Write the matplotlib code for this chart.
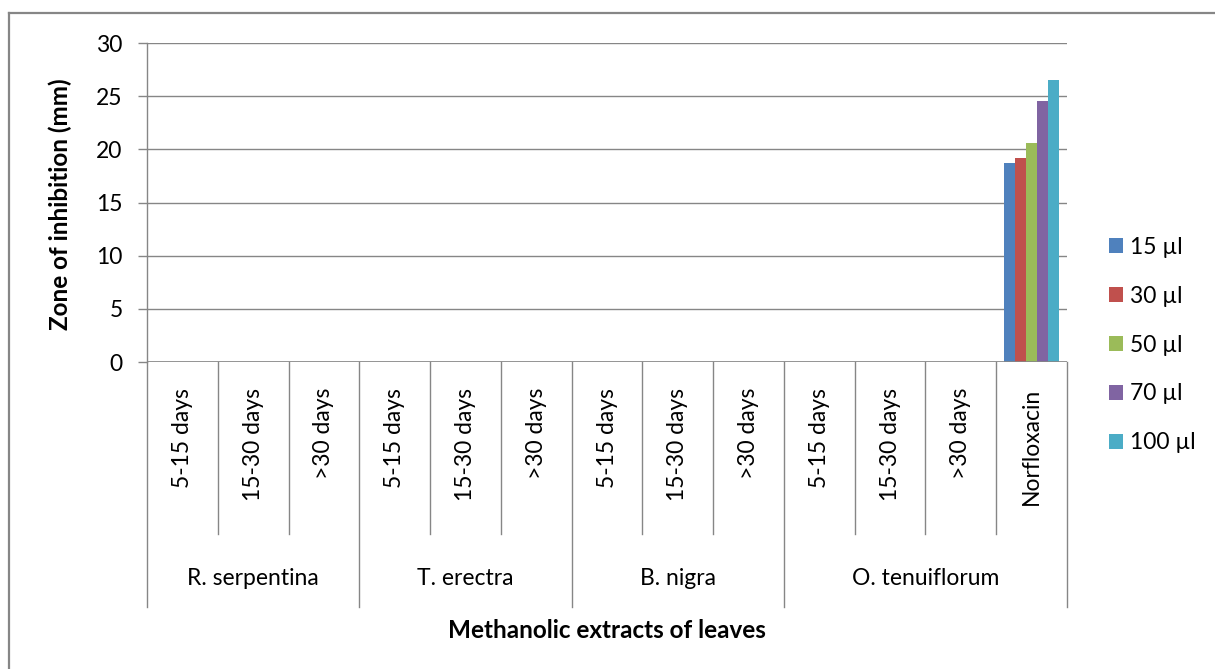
import matplotlib
matplotlib.use("Agg")
import matplotlib.pyplot as plt
import matplotlib.transforms as mtransforms
from matplotlib.lines import Line2D
import numpy as np

plt.rcParams['font.family'] = ['Lato', 'DejaVu Sans']

groups = ["R. serpentina", "T. erectra", "B. nigra", "O. tenuiflorum"]
group_sizes = [3, 3, 3, 4]
categories = ["5-15 days", "15-30 days", ">30 days",
              "5-15 days", "15-30 days", ">30 days",
              "5-15 days", "15-30 days", ">30 days",
              "5-15 days", "15-30 days", ">30 days",
              "Norfloxacin"]
series_names = ["15 µl", "30 µl", "50 µl", "70 µl", "100 µl"]
s15 = [0, 0, 0, 0, 0, 0, 0, 0, 0, 0, 0, 0, 18.7]
s30 = [0, 0, 0, 0, 0, 0, 0, 0, 0, 0, 0, 0, 19.2]
s50 = [0, 0, 0, 0, 0, 0, 0, 0, 0, 0, 0, 0, 20.6]
s70 = [0, 0, 0, 0, 0, 0, 0, 0, 0, 0, 0, 0, 24.5]
s100 = [0, 0, 0, 0, 0, 0, 0, 0, 0, 0, 0, 0, 26.5]
yticks = [0, 5, 10, 15, 20, 25, 30]

series = [s15, s30, s50, s70, s100]
colors = ["#4F81BD", "#C0504D", "#9BBB59", "#8064A2", "#4BACC6"]
grid_c = "#868686"
fs = 16.5
fs_b = 17.5

W, H = 1215, 669
fig = plt.figure(figsize=(W / 100, H / 100), dpi=100)
ax = fig.add_axes([147 / W, 1 - 362 / H, (1067 - 147) / W, (362 - 43) / H])

n = len(categories)
x = np.arange(n)
group_w = 0.77
bw = group_w / len(series)
for k, (vals, c, name) in enumerate(zip(series, colors, series_names)):
    ax.bar(x - group_w / 2 + bw * (k + 0.5), vals, width=bw, color=c,
           label=name, zorder=3, linewidth=0)

ax.set_xlim(-0.5, n - 0.5)
ax.set_ylim(0, 30)
ax.set_yticks(yticks)
ax.set_yticklabels([str(t) for t in yticks], fontsize=fs)
ax.yaxis.grid(True, color=grid_c, linewidth=1.0, zorder=0)
ax.set_axisbelow(True)
for sp in ["top", "right", "bottom"]:
    ax.spines[sp].set_visible(False)
ax.spines["left"].set_color(grid_c)
ax.spines["left"].set_linewidth(1.0)
ax.tick_params(axis="y", length=6.5, width=1.0, color=grid_c, pad=11)
ax.set_xticks([])
ax.axhline(0, color=grid_c, linewidth=1.2, zorder=4)

trans = mtransforms.blended_transform_factory(ax.transData, ax.transAxes)
ax_h = 362 - 43
y_short = -(534 - 362) / ax_h
y_long = -(607 - 362) / ax_h
y_lab = -(388 - 362) / ax_h
y_grp = -(578 - 362) / ax_h

bounds = np.cumsum([0] + group_sizes)
for i in range(n + 1):
    yb = y_long if i in bounds else y_short
    ax.add_line(Line2D([i - 0.5, i - 0.5], [0, yb], transform=trans,
                       color=grid_c, linewidth=1.0, clip_on=False))

for i, lab in enumerate(categories):
    ax.text(i, y_lab, lab, transform=trans, rotation=90, ha="center",
            va="top", fontsize=fs, color="black")

for g, name in enumerate(groups):
    c = (bounds[g] + bounds[g + 1] - 1) / 2
    ax.text(c, y_grp, name, transform=trans, ha="center", va="center",
            fontsize=fs, color="black")

fig.text(60 / W, 1 - 204 / H, "Zone of inhibition (mm)", rotation=90,
         ha="center", va="center", fontsize=fs_b, fontweight="bold")
fig.text(607 / W, 1 - 631 / H, "Methanolic extracts of leaves",
         ha="center", va="center", fontsize=fs_b, fontweight="bold")

leg = ax.legend(loc="center left", bbox_to_anchor=(1109 / W, 1 - 345 / H),
                bbox_transform=fig.transFigure, frameon=False, fontsize=fs,
                handlelength=0.62, handleheight=0.62, handletextpad=0.3,
                labelspacing=1.22, borderpad=0, borderaxespad=0)

# outer chart frame (top and left edges)
fig.add_artist(Line2D([9 / W, 9 / W], [0, 1 - 13 / H], transform=fig.transFigure,
                      color=grid_c, linewidth=1.6))
fig.add_artist(Line2D([9 / W, 1], [1 - 13 / H, 1 - 13 / H], transform=fig.transFigure,
                      color=grid_c, linewidth=1.6))

fig.savefig("out.png", dpi=100)
